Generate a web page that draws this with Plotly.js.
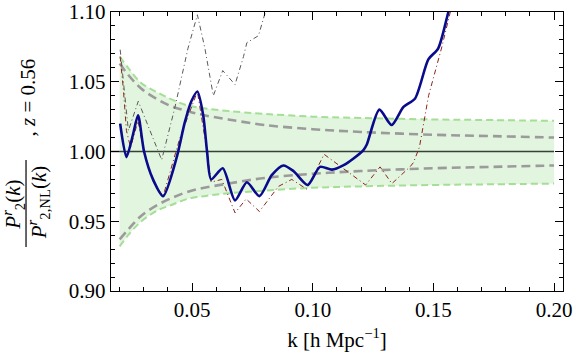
<!DOCTYPE html>
<html>
<head>
<meta charset="utf-8">
<script src="https://cdn.plot.ly/plotly-3.0.1.min.js"></script>
<style>
  body { margin: 0; padding: 0; background: #ffffff; }
  #plot1 { width: 576px; height: 354px; }
</style>
</head>
<body>
<div id="plot1"></div>
<script>
// band curves
var bandK = [0.020, 0.0235, 0.029, 0.036, 0.042, 0.048, 0.055, 0.065, 0.080, 0.100, 0.120, 0.150, 0.175, 0.200];
var greenUp = [1.068, 1.060, 1.049, 1.042, 1.037, 1.033, 1.031, 1.029, 1.027, 1.025, 1.024, 1.023, 1.0225, 1.022];
var greenLo = [0.932, 0.940, 0.950, 0.958, 0.962, 0.966, 0.968, 0.970, 0.972, 0.974, 0.975, 0.976, 0.9765, 0.977];
var grayUp = [1.063, 1.055, 1.045, 1.037, 1.032, 1.029, 1.026, 1.023, 1.019, 1.016, 1.014, 1.012, 1.011, 1.010];
var grayLo = [0.937, 0.944, 0.954, 0.962, 0.967, 0.971, 0.974, 0.977, 0.981, 0.984, 0.986, 0.988, 0.989, 0.990];

var refK = [0.010, 0.200];
var refY = [1.000, 1.000];

// blue solid curve
var blueK = [0.0202, 0.0228, 0.0255, 0.0276, 0.0301, 0.0338, 0.038, 0.0435, 0.047, 0.0497, 0.0522, 0.0546, 0.0562, 0.0579,
             0.0627, 0.0678, 0.0727, 0.0779, 0.083, 0.0878, 0.092, 0.0979, 0.103, 0.108, 0.1126, 0.1169, 0.121,
             0.1224, 0.1276, 0.1327, 0.1376, 0.1424, 0.1479, 0.152, 0.1562, 0.160];
var blueY = [1.020, 0.996, 1.012, 1.026, 1.000, 0.980, 0.968, 0.995, 1.021, 1.036, 1.043, 1.026, 1.000, 0.980,
             0.988, 0.965, 0.978, 0.968, 0.983, 0.990, 0.986, 0.976, 0.989, 0.987, 0.990, 0.995, 1.001,
             1.005, 1.030, 1.019, 1.032, 1.038, 1.066, 1.074, 1.100, 1.125];

// dark red dash-dot curve
var redK = [0.0202, 0.0215, 0.0228, 0.0245, 0.0276, 0.030, 0.034, 0.038, 0.045, 0.0522, 0.0562, 0.0579, 0.0623,
            0.0678, 0.0724, 0.0779, 0.0858, 0.0913, 0.0975, 0.1047, 0.1219, 0.1279, 0.1328, 0.1403, 0.1417,
            0.1442, 0.148, 0.1535, 0.157, 0.160];
var redY = [1.068, 1.045, 1.015, 1.003, 1.022, 1.000, 0.978, 0.968, 1.010, 1.043, 1.000, 0.978, 0.980,
            0.956, 0.966, 0.957, 0.975, 0.980, 0.973, 0.998, 0.976, 0.989, 0.977, 0.989, 0.992,
            1.003, 1.040, 1.075, 1.100, 1.120];

// grey dash-dot curve
var greyK = [0.0202, 0.0236, 0.0277, 0.032, 0.036, 0.0374, 0.0428, 0.0483, 0.0522, 0.0553, 0.0588, 0.0627, 0.0678,
             0.0713, 0.0727, 0.0775, 0.0802, 0.083];
var greyY = [1.073, 1.015, 1.036, 1.017, 0.999, 0.994, 1.031, 1.074, 1.098, 1.074, 1.040, 1.058, 1.048,
             1.068, 1.078, 1.083, 1.099, 1.120];

var xTicks = [0.05, 0.10, 0.15, 0.20];
var yTicks = [0.90, 0.95, 1.00, 1.05, 1.10];

var serif = "Liberation Serif, Times New Roman, serif";

var traceGreenUp = {
  x: bandK, y: greenUp, mode: "lines", hoverinfo: "skip",
  line: { color: "rgb(165,222,150)", width: 2, dash: "7px,4px", shape: "spline" }
};
var traceGreenLo = {
  x: bandK, y: greenLo, mode: "lines", hoverinfo: "skip",
  fill: "tonexty", fillcolor: "rgb(226,245,222)",
  line: { color: "rgb(165,222,150)", width: 2, dash: "7px,4px", shape: "spline" }
};
var traceGrayUp = {
  x: bandK, y: grayUp, mode: "lines",
  line: { color: "rgb(155,155,155)", width: 2.6, dash: "9px,5px", shape: "spline" }
};
var traceGrayLo = {
  x: bandK, y: grayLo, mode: "lines",
  line: { color: "rgb(155,155,155)", width: 2.6, dash: "9px,5px", shape: "spline" }
};
var traceRef = {
  x: refK, y: refY, mode: "lines",
  line: { color: "rgb(55,65,55)", width: 1.3 }
};
var traceGrey = {
  x: greyK, y: greyY, mode: "lines",
  line: { color: "rgb(90,90,90)", width: 1, dash: "5px,3px,1px,3px" }
};
var traceRed = {
  x: redK, y: redY, mode: "lines",
  line: { color: "rgb(140,35,30)", width: 1, dash: "5px,3px,1px,3px" }
};
var traceBlue = {
  x: blueK, y: blueY, mode: "lines",
  line: { color: "rgb(10,10,140)", width: 2.6, shape: "spline", smoothing: 0.7 }
};

var data1 = [traceGreenUp, traceGreenLo, traceGrayUp, traceGrayLo, traceRef, traceGrey, traceRed, traceBlue];

// y label: fraction drawn as rotated texts + a bar
var labelFont = { family: serif, size: 21, color: "black" };

var layout1 = {
  width: 576, height: 354,
  margin: { l: 111, r: 13, t: 12, b: 63 },
  showlegend: false,
  paper_bgcolor: "white", plot_bgcolor: "white",
  font: { family: serif, size: 21, color: "black" },
  xaxis: {
    range: [0.0164, 0.2037],
    tickvals: xTicks, tickformat: ".2f",
    ticks: "inside", ticklen: 8, tickcolor: "black", tickwidth: 1,
    minor: { dtick: 0.01, tick0: 0, ticks: "inside", ticklen: 4, tickcolor: "black", tickwidth: 1 },
    showline: true, linecolor: "black", linewidth: 1.2, mirror: "ticks",
    showgrid: false, zeroline: false,
    tickfont: { family: serif, size: 21 },
    title: { text: "k [h Mpc<sup>\u22121</sup>]", font: { family: serif, size: 21 }, standoff: 10 }
  },
  yaxis: {
    range: [0.90, 1.10],
    tickvals: yTicks, tickformat: ".2f",
    ticks: "inside", ticklen: 8, tickcolor: "black", tickwidth: 1,
    minor: { dtick: 0.01, tick0: 0, ticks: "inside", ticklen: 4, tickcolor: "black", tickwidth: 1 },
    showline: true, linecolor: "black", linewidth: 1.2, mirror: "ticks",
    showgrid: false, zeroline: false,
    tickfont: { family: serif, size: 21 }
  },
  annotations: [
    { xref: "paper", yref: "paper", x: -0.2175, y: 0.3082, xanchor: "center", yanchor: "middle",
      textangle: -90, showarrow: false,
      text: "<i>P</i><sup><i>r</i></sup><sub>2</sub>(<i>k</i>)", font: labelFont },
    { xref: "paper", yref: "paper", x: -0.161, y: 0.3154, xanchor: "center", yanchor: "middle",
      textangle: -90, showarrow: false,
      text: "<i>P</i><sup><i>r</i></sup><sub>2,NL</sub>(<i>k</i>)", font: labelFont },
    { xref: "paper", yref: "paper", x: -0.1836, y: 0.6935, xanchor: "center", yanchor: "middle",
      textangle: -90, showarrow: false,
      text: ", <i>z</i> = 0.56", font: labelFont }
  ],
  shapes: [
    { type: "line", xref: "paper", yref: "paper", x0: -0.1880, x1: -0.1880, y0: 0.1577, y1: 0.4695,
      line: { color: "black", width: 1.2 } }
  ]
};

Plotly.newPlot("plot1", data1, layout1, { displayModeBar: false, staticPlot: true });
</script>
</body>
</html>
